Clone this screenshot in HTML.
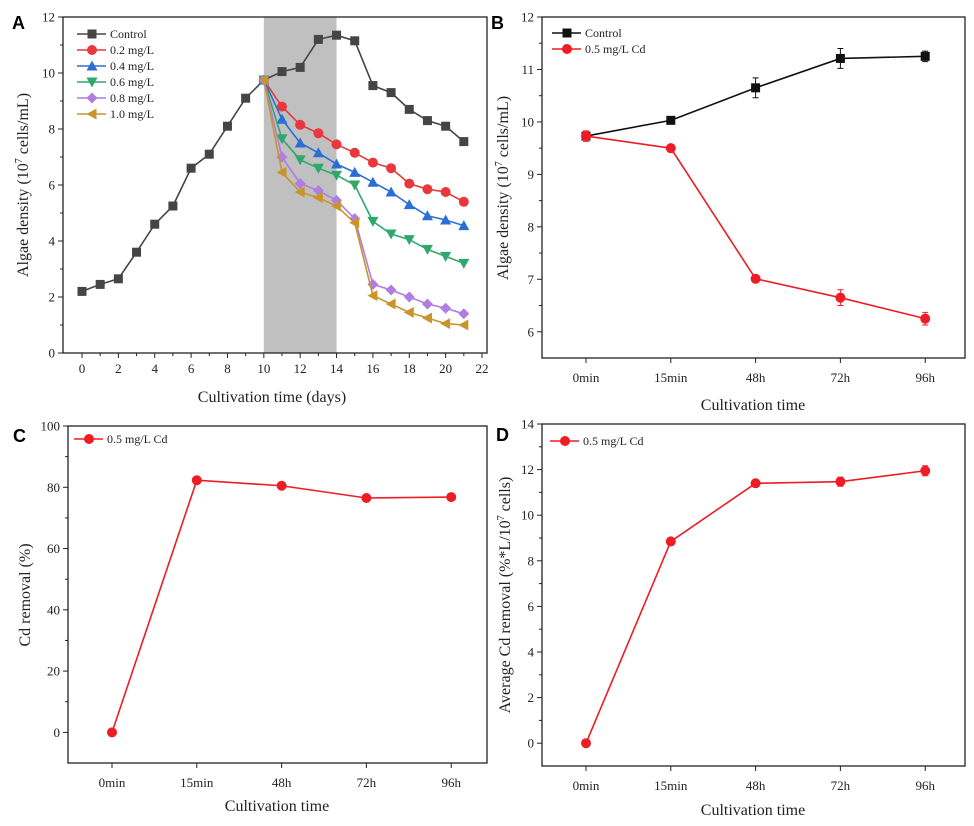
<!DOCTYPE html>
<html><head><meta charset="utf-8"><style>
body{margin:0;background:#fff}
svg{display:block;font-family:"Liberation Serif",serif}
.t{font-size:13px;fill:#222}
.ti{font-size:16px;fill:#222}
.pl{font-family:"Liberation Sans",sans-serif;font-weight:bold;font-size:18px}
</style></head><body>
<svg id="fig" width="974" height="826" viewBox="0 0 974 826" xmlns="http://www.w3.org/2000/svg"></svg>
<script>
// Panel A data
const daysA=[0,1,2,3,4,5,6,7,8,9,10,11,12,13,14,15,16,17,18,19,20,21];
const daysT=[10,11,12,13,14,15,16,17,18,19,20,21];
const controlA=[2.2,2.45,2.65,3.6,4.6,5.25,6.6,7.1,8.1,9.1,9.75,10.05,10.2,11.2,11.35,11.15,9.55,9.3,8.7,8.3,8.1,7.55];
const c02=[9.75,8.8,8.15,7.85,7.45,7.15,6.8,6.6,6.05,5.85,5.75,5.4];
const c04=[9.75,8.35,7.5,7.15,6.75,6.45,6.1,5.75,5.3,4.9,4.75,4.55];
const c06=[9.75,7.65,6.9,6.6,6.35,6.0,4.7,4.25,4.05,3.7,3.45,3.2];
const c08=[9.75,7.0,6.05,5.8,5.45,4.8,2.45,2.25,2.0,1.75,1.6,1.4];
const c10=[9.75,6.45,5.75,5.55,5.25,4.65,2.05,1.75,1.45,1.25,1.05,1.0];
const ticksAx=[0,2,4,6,8,10,12,14,16,18,20,22];
const ticksAy=[0,2,4,6,8,10,12];
// Panel B-D data
const cats=["0min","15min","48h","72h","96h"];
const controlB=[9.73,10.03,10.65,11.21,11.25];
const controlBErr=[0.05,0.03,0.19,0.19,0.1];
const cdB=[9.73,9.5,7.01,6.65,6.25];
const cdBErr=[0.1,0.03,0.05,0.15,0.12];
const ticksBy=[6,7,8,9,10,11,12];
const removalC=[0,82.3,80.5,76.5,76.8];
const ticksCy=[0,20,40,60,80,100];
const avgD=[0,8.85,11.4,11.47,11.95];
const avgDErr=[0,0.05,0.08,0.2,0.22];
const ticksDy=[0,2,4,6,8,10,12,14];

const NS="http://www.w3.org/2000/svg";
const svg=document.getElementById('fig');
function mk(tag,attrs,parent,text){const e=document.createElementNS(NS,tag);for(const k in attrs)e.setAttribute(k,attrs[k]);if(text!==undefined)e.textContent=text;(parent||svg).appendChild(e);return e;}
function lin(d0,d1,r0,r1){return v=>r0+(v-d0)*(r1-r0)/(d1-d0);}

function marker(g,shape,x,y,col){
  const s=4.5;let e;
  if(shape==='sq')e=mk('rect',{x:x-s,y:y-s,width:2*s,height:2*s,fill:col},g);
  else if(shape==='ci')e=mk('circle',{cx:x,cy:y,r:s+0.5,fill:col},g);
  else{let p;
    if(shape==='up')p=[[x,y-s-1],[x+s+1,y+s],[x-s-1,y+s]];
    else if(shape==='dn')p=[[x,y+s+1],[x+s+1,y-s],[x-s-1,y-s]];
    else if(shape==='di')p=[[x,y-s-1],[x+s+1,y],[x,y+s+1],[x-s-1,y]];
    else p=[[x-s-1,y],[x+s,y-s-1],[x+s,y+s+1]];
    e=mk('polygon',{points:p.map(q=>q.join(',')).join(' '),fill:col},g);}
  
  
}
function series(g,xs,ys,X,Y,col,shape,errs,name){
  const sg=mk('g',{},g);
  
  
  mk('polyline',{points:xs.map((x,i)=>X(x)+','+Y(ys[i])).join(' '),fill:'none',stroke:col,'stroke-width':1.6},sg);
  if(errs)xs.forEach((x,i)=>{const e=errs[i];if(!e)return;const px=X(x),y1=Y(ys[i]-e),y2=Y(ys[i]+e);
    mk('path',{d:`M${px},${y1}V${y2}M${px-3},${y1}h6M${px-3},${y2}h6`,stroke:col,'stroke-width':1,fill:'none'},sg);});
  xs.forEach((x,i)=>marker(sg,shape,X(x),Y(ys[i]),col));
}
function frame(g,l,t,r,b){mk('rect',{x:l,y:t,width:r-l,height:b-t,fill:'none',stroke:'#222','stroke-width':1.3},g);}
function yaxis(g,l,ticks,Y,minorStep){
  ticks.forEach(v=>{mk('line',{x1:l-5,x2:l,y1:Y(v),y2:Y(v),stroke:'#222'},g);
    const t=mk('text',{x:l-8,y:Y(v)+4.5,'text-anchor':'end',class:'t'},g,String(v));
    });
  if(minorStep)for(let v=ticks[0];v<ticks[ticks.length-1];v+=minorStep){mk('line',{x1:l-3,x2:l,y1:Y(v+minorStep/2),y2:Y(v+minorStep/2),stroke:'#222'},g);}
}
function legend(g,x,y,items){
  items.forEach((it,i)=>{const lg=mk('g',{},g);
    
    const yy=y+i*16;mk('line',{x1:x,x2:x+29,y1:yy,y2:yy,stroke:it.c,'stroke-width':1.6},lg);
    marker(lg,it.s,x+15,yy,it.c);mk('text',{x:x+33,y:yy+4,style:'font-size:12px;fill:#222'},lg,it.n);});
}
function ytitle(g,x,y,html,name){const t=mk('text',{x:x,y:y,'text-anchor':'middle',class:'ti',transform:`rotate(-90 ${x} ${y})`},g);t.innerHTML=html;}
function xtitle(g,x,y,s,name){const t=mk('text',{x:x,y:y,'text-anchor':'middle',class:'ti'},g,s);}
function plabel(g,x,y,s){const t=mk('text',{x:x,y:y,class:'pl'},g,s);}

// ---------- Panel A
{const g=mk('g',{});
 const L=63,T=17,R=487,B=353;const X=lin(0,22,82,482),Y=lin(0,12,353,17);
 const sh=mk('rect',{x:X(10),y:T,width:X(14)-X(10),height:B-T,fill:'#c0c0c0'},g);
 
 frame(g,L,T,R,B);
 for(let d=0;d<=22;d++)mk('line',{x1:X(d),x2:X(d),y1:B,y2:B+(d%2?3:5),stroke:'#222'},g);
 ticksAx.forEach(v=>{const t=mk('text',{x:X(v),y:B+20,'text-anchor':'middle',class:'t'},g,String(v));});
 yaxis(g,L,ticksAy,Y,2);
 series(g,daysA,controlA,X,Y,'#454545','sq',null,'series-control');
 series(g,daysT,c02,X,Y,'#e8383d','ci',null,'series-0.2');
 series(g,daysT,c04,X,Y,'#2b6fd6','up',null,'series-0.4');
 series(g,daysT,c06,X,Y,'#2fa96b','dn',null,'series-0.6');
 series(g,daysT,c08,X,Y,'#b07ee0','di',null,'series-0.8');
 series(g,daysT,c10,X,Y,'#c9952b','lt',null,'series-1.0');
 legend(g,77,34,[{n:'Control',c:'#454545',s:'sq'},{n:'0.2 mg/L',c:'#e8383d',s:'ci'},{n:'0.4 mg/L',c:'#2b6fd6',s:'up'},{n:'0.6 mg/L',c:'#2fa96b',s:'dn'},{n:'0.8 mg/L',c:'#b07ee0',s:'di'},{n:'1.0 mg/L',c:'#c9952b',s:'lt'}]);
 ytitle(g,28,185,'Algae density (10<tspan dy="-6" style="font-size:10px">7</tspan><tspan dy="6"> cells/mL)</tspan>','y-axis-title');
 xtitle(g,272,402,'Cultivation time (days)','x-axis-title');
 plabel(g,12,29,'A');}

function catPanel(id,L,T,R,B,ymin,ymax,ticks,minor,letter,lx,ly){
 const g=mk('g',{});
 const X=i=>L+44+i*84.8,Y=lin(ymin,ymax,B,T);
 frame(g,L,T,R,B);
 cats.forEach((c,i)=>{mk('line',{x1:X(i),x2:X(i),y1:B,y2:B+5,stroke:'#222'},g);
   const t=mk('text',{x:X(i),y:B+24,'text-anchor':'middle',class:'t'},g,c);});
 yaxis(g,L,ticks,Y,minor);
 plabel(g,lx,ly,letter);
 return {g,X,Y};}
const idx=[0,1,2,3,4];
// ---------- Panel B
{const p=catPanel('panel-b',542,17,965,358,5.5,12,ticksBy,1,'B',491,29);
 series(p.g,idx,controlB,p.X,p.Y,'#111','sq',controlBErr,'series-control');
 series(p.g,idx,cdB,p.X,p.Y,'#ee1c25','ci',cdBErr,'series-cd');
 legend(p.g,552,33,[{n:'Control',c:'#111',s:'sq'},{n:'0.5 mg/L Cd',c:'#ee1c25',s:'ci'}]);
 ytitle(p.g,508,188,'Algae density (10<tspan dy="-6" style="font-size:10px">7</tspan><tspan dy="6"> cells/mL)</tspan>','y-axis-title');
 xtitle(p.g,753,410,'Cultivation time','x-axis-title');}
// ---------- Panel C
{const p=catPanel('panel-c',68,426,487,763,-10,100,ticksCy,20,'C',13,442);
 series(p.g,idx,removalC,p.X,p.Y,'#ee1c25','ci',null,'series-cd');
 legend(p.g,74,439,[{n:'0.5 mg/L Cd',c:'#ee1c25',s:'ci'}]);
 ytitle(p.g,30,595,'Cd removal (%)','y-axis-title');
 xtitle(p.g,277,811,'Cultivation time','x-axis-title');}
// ---------- Panel D
{const p=catPanel('panel-d',542,424,965,766,-1,14,ticksDy,2,'D',496,441);
 series(p.g,idx,avgD,p.X,p.Y,'#ee1c25','ci',avgDErr,'series-cd');
 legend(p.g,550,441,[{n:'0.5 mg/L Cd',c:'#ee1c25',s:'ci'}]);
 ytitle(p.g,510,595,'Average Cd removal (%*L/10<tspan dy="-6" style="font-size:10px">7</tspan><tspan dy="6"> cells)</tspan>','y-axis-title');
 xtitle(p.g,753,815,'Cultivation time','x-axis-title');}
</script>
</body></html>
